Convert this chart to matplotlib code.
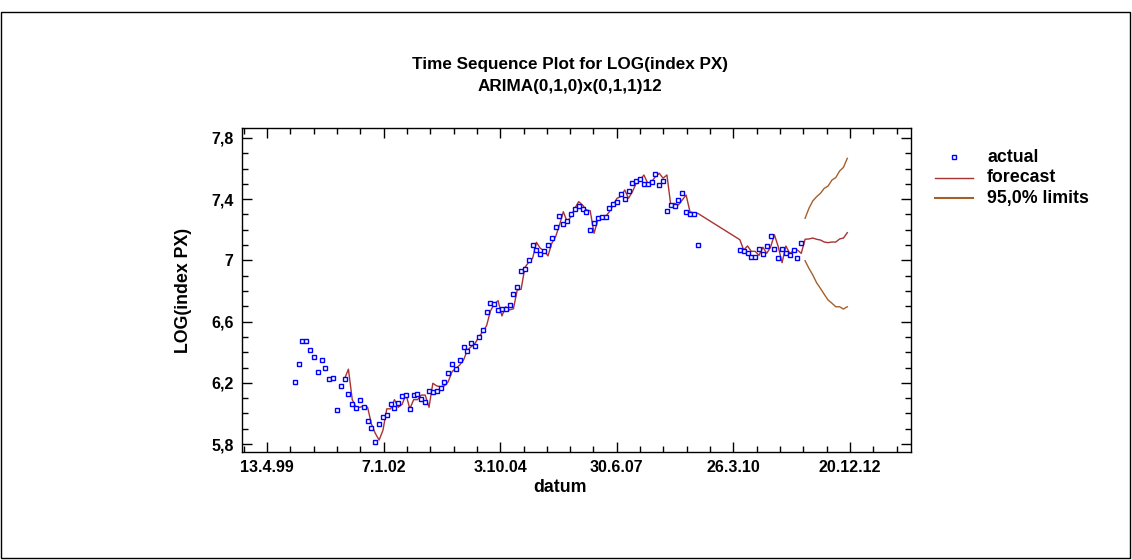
import numpy as np
import matplotlib
matplotlib.use('Agg')
import matplotlib.pyplot as plt
from matplotlib.ticker import MultipleLocator, FixedLocator, FuncFormatter
from matplotlib.lines import Line2D
from matplotlib.patches import Rectangle

# ---------------- data ----------------
nan = np.nan
actual = [6.203, 6.325, 6.475, 6.475, 6.412, 6.371, 6.271, 6.351, 6.299, 6.223,
          6.234, 6.022, 6.181, 6.227, 6.125, 6.059, 6.034, 6.088, 6.044, 5.953,
          5.905, 5.811, 5.933, 5.979, 5.988, 6.061, 6.037, 6.068, 6.112, 6.123,
          6.031, 6.118, 6.125, 6.096, 6.073, 6.146, 6.142, 6.149, 6.169, 6.207,
          6.262, 6.325, 6.292, 6.351, 6.436, 6.410, 6.462, 6.443, 6.499, 6.545,
          6.663, 6.724, 6.713, 6.676, 6.684, 6.680, 6.711, 6.783, 6.828, 6.929,
          6.946, 7.005, 7.101, 7.070, 7.044, 7.063, 7.103, 7.148, 7.218, 7.292,
          7.240, 7.256, 7.305, 7.336, 7.356, 7.336, 7.316, 7.201, 7.247, 7.279,
          7.284, 7.284, 7.345, 7.369, 7.380, 7.432, 7.403, 7.454, 7.508, 7.519,
          7.534, 7.501, 7.501, 7.514, 7.567, 7.493, 7.517, 7.321, 7.364, 7.354,
          7.393, 7.443, 7.314, 7.305, 7.305, 7.101,
          nan, nan, nan, nan, nan, nan, nan, nan, nan, nan,
          7.066, 7.062, 7.046, 7.024, 7.024, 7.077, 7.042, 7.094, 7.159, 7.077,
          7.014, 7.077, 7.048, 7.035, 7.066, 7.018, 7.116]

fitted_first_period = 14
fitted = [6.227, 6.289, 6.090, 6.040, 6.040, 6.050, 6.040, 5.930, 5.870, 5.826,
          5.890, 6.030, 6.030, 6.090, 6.040, 6.060, 6.125, 6.030, 6.090, 6.090,
          6.120, 6.120, 6.040, 6.197, 6.180, 6.175, 6.180, 6.207, 6.273, 6.295,
          6.316, 6.349, 6.414, 6.436, 6.458, 6.500, 6.534, 6.573, 6.669, 6.715,
          6.737, 6.637, 6.697, 6.676, 6.684, 6.807, 6.811, 6.955, 6.988, 7.014,
          7.118, 7.079, 7.063, 7.029, 7.112, 7.155, 7.231, 7.318, 7.253, 7.286,
          7.340, 7.384, 7.362, 7.329, 7.325, 7.177, 7.264, 7.286, 7.286, 7.318,
          7.362, 7.406, 7.417, 7.460, 7.406, 7.449, 7.504, 7.525, 7.558, 7.504,
          7.514, 7.547, 7.569, 7.537, 7.558, 7.362, 7.373, 7.362, 7.395, 7.427,
          7.318, 7.308, 7.308,
          nan, nan, nan, nan, nan, nan, nan, nan, nan, nan,
          7.135, 7.068, 7.094, 7.059, 7.059, 7.033, 7.086, 7.046, 7.086, 7.168,
          7.090, 6.985, 7.094, 7.046, 7.063, 7.068, 7.046]

forecast = [7.138, 7.140, 7.146, 7.138, 7.133, 7.120, 7.116, 7.120, 7.120, 7.140,
            7.146, 7.181]
upper = [7.275, 7.340, 7.388, 7.416, 7.438, 7.471, 7.486, 7.525, 7.541, 7.584,
         7.608, 7.667]
lower = [6.998, 6.948, 6.905, 6.854, 6.817, 6.778, 6.741, 6.720, 6.697, 6.697,
         6.682, 6.697]

x_tick_labels = ['13.4.99', '7.1.02', '3.10.04', '30.6.07', '26.3.10', '20.12.12']
y_ticks = [5.8, 6.2, 6.6, 7.0, 7.4, 7.8]

title1 = 'Time Sequence Plot for LOG(index PX)'
title2 = 'ARIMA(0,1,0)x(0,1,1)12'
xlabel = 'datum'
ylabel = 'LOG(index PX)'
legend_labels = ['actual', 'forecast', '95,0% limits']

# ---------------- styling ----------------
FONT = 'Liberation Sans'
FS_TITLE = 12.3
FS_LABEL = 12.8
FS_TICK = 11.5
FS_LEG = 12.8
C_ACT = '#0000ff'
C_FC = '#a83232'
C_LIM = '#a5602a'

W, H = 1132, 560
fig = plt.figure(figsize=(W / 100, H / 100), dpi=100)
fig.patch.set_facecolor('white')

def fx(px):
    return px / W

def fy(py):
    return 1 - py / H

ax = fig.add_axes([fx(242), fy(452), fx(911) - fx(242), fy(128) - fy(452)])

n_act = len(actual)
x_act = np.arange(1, n_act + 1)
ax.plot(x_act, actual, ls='none', marker='s', ms=3.4, mfc='white',
        mec=C_ACT, mew=1.0, zorder=3)

fit_all = np.array(fitted + forecast, dtype=float)
x_fit = np.arange(fitted_first_period, fitted_first_period + len(fit_all))
m = np.isfinite(fit_all)
ax.plot(x_fit[m], fit_all[m], color=C_FC, lw=1.0, zorder=2)

x_fc = np.arange(n_act + 1, n_act + 1 + len(forecast))
ax.plot(x_fc, upper, color=C_LIM, lw=1.0, zorder=2)
ax.plot(x_fc, lower, color=C_LIM, lw=1.0, zorder=2)

# x axis: observation periods with date labels
step = 30.38
x_tick_pos = [-6.2 + k * step for k in range(len(x_tick_labels))]
ax.set_xlim(-12.73, 161.6)
ax.xaxis.set_major_locator(FixedLocator(x_tick_pos))
ax.xaxis.set_minor_locator(FixedLocator(
    [x_tick_pos[0] + k * step / 5 for k in range(-1, 5 * len(x_tick_labels) + 1)
     if k % 5 != 0]))
ax.set_xticklabels(x_tick_labels)

ax.set_ylim(5.748, 7.865)
ax.yaxis.set_major_locator(FixedLocator(y_ticks))
ax.yaxis.set_minor_locator(MultipleLocator(0.1))
ax.yaxis.set_major_formatter(FuncFormatter(lambda v, p: f'{v:g}'.replace('.', ',')))

ax.tick_params(which='both', direction='in', top=True, right=True, width=1.0,
               colors='black')
ax.tick_params(which='major', length=7, pad=6)
ax.tick_params(which='minor', length=4)
for lab in ax.get_xticklabels() + ax.get_yticklabels():
    lab.set_fontfamily(FONT)
    lab.set_fontweight('bold')
    lab.set_fontsize(FS_TICK)
for s in ax.spines.values():
    s.set_linewidth(1.0)

# titles and axis labels
fig.text(fx(570), fy(65), title1, ha='center', va='center', fontsize=FS_TITLE,
         fontweight='bold', family=FONT)
fig.text(fx(570), fy(87), title2, ha='center', va='center', fontsize=FS_TITLE,
         fontweight='bold', family=FONT)
fig.text(fx(560), fy(487), xlabel, ha='center', va='center', fontsize=FS_LABEL,
         fontweight='bold', family=FONT)
fig.text(fx(184), fy(290), ylabel, ha='center', va='center', rotation=90,
         fontsize=FS_LABEL, fontweight='bold', family=FONT)

# legend (drawn manually)
ly = [157, 178, 198]
fig.add_artist(Line2D([fx(954)], [fy(ly[0])], ls='none', marker='s', ms=3.4,
                      mfc='white', mec=C_ACT, mew=1.0))
fig.add_artist(Line2D([fx(935), fx(973)], [fy(ly[1])] * 2, color=C_FC, lw=1.0))
fig.add_artist(Line2D([fx(935), fx(973)], [fy(ly[2])] * 2, color=C_LIM, lw=1.5))
for yy, t in zip(ly, legend_labels):
    fig.text(fx(987), fy(yy), t, ha='left', va='center', fontsize=FS_LEG,
             fontweight='bold', family=FONT)

# outer frame
fig.add_artist(Rectangle((fx(1), fy(558)), fx(1130) - fx(1), fy(12) - fy(558),
                         fill=False, ec='black', lw=1.0))

fig.savefig('out.png', dpi=100)
